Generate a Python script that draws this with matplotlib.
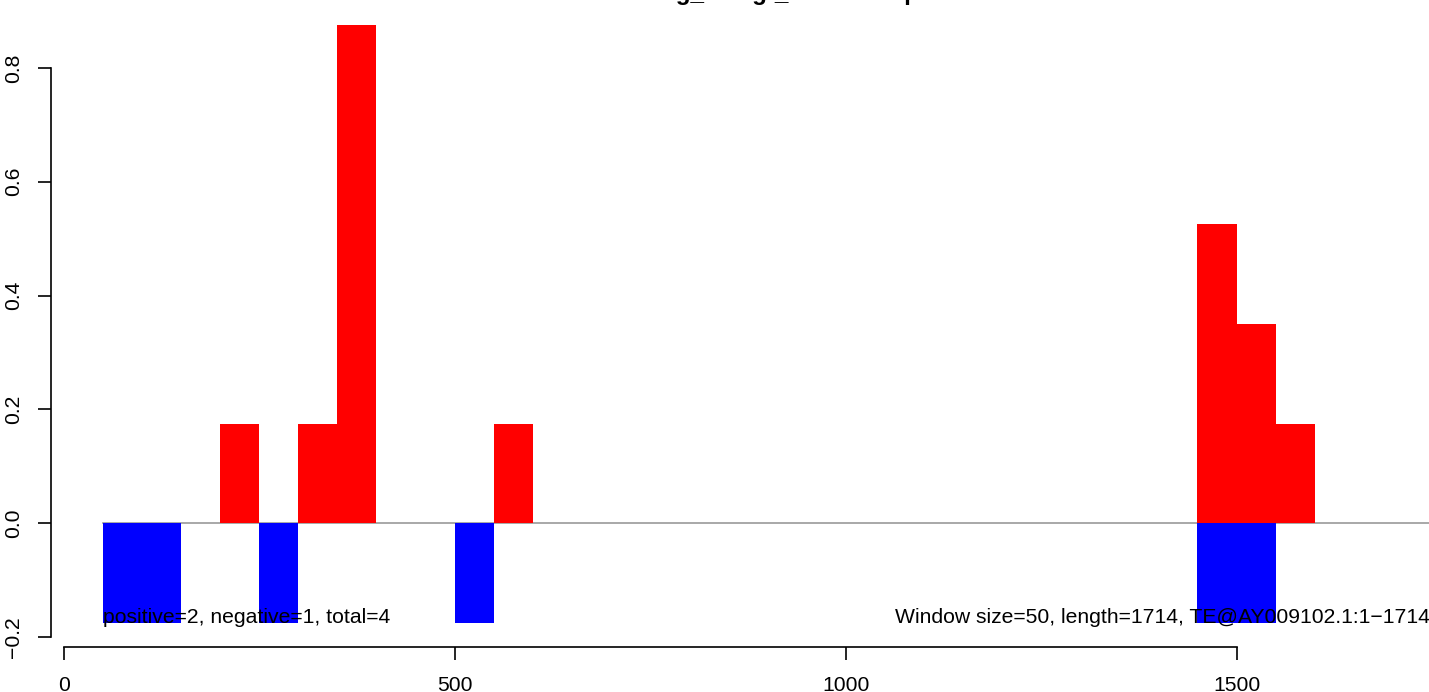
import matplotlib
matplotlib.use("Agg")
import matplotlib.pyplot as plt

# ---- data ----
window = 50
seq_length = 1714
pos_starts = [200, 300, 350, 550, 1450, 1500, 1550]
pos_vals = [0.175, 0.175, 0.875, 0.175, 0.525, 0.35, 0.175]
neg_starts = [50, 100, 250, 500, 1450, 1500]
neg_vals = [-0.175, -0.175, -0.175, -0.175, -0.175, -0.175]
x_ticks = [0, 500, 1000, 1500]
y_ticks = [-0.2, 0.0, 0.2, 0.4, 0.6, 0.8]
y_tick_labels = ["\u22120.2", "0.0", "0.2", "0.4", "0.6", "0.8"]
title = "Ovaries.log_Tab.gt_sRNAsumplot"
left_note = "positive=2, negative=1, total=4"
right_note = "Window size=50, length=1714, TE@AY009102.1:1\u22121714"

plt.rcParams["font.family"] = ["Liberation Sans", "DejaVu Sans"]

W, H = 1429, 692
fig = plt.figure(figsize=(W / 100, H / 100), dpi=100)
left_px, right_px, bottom_px, top_px = 50.7, 1456.0, 646.5, 1.5
ax = fig.add_axes([left_px / W, (H - bottom_px) / H,
                   (right_px - left_px) / W, (bottom_px - top_px) / H])
ax.set_xlim(-16.6, 1780.6)
ax.set_ylim(-0.217, 0.917)

ax.plot([50, seq_length + 60], [0, 0], color="#9a9a9a", lw=1.2, zorder=1)
ax.bar(pos_starts, pos_vals, width=window, align="edge", color="#ff0000",
       linewidth=0, zorder=2)
ax.bar(neg_starts, neg_vals, width=window, align="edge", color="#0000ff",
       linewidth=0, zorder=2)

fs = 15.2
ax.text(50, -0.175, left_note, ha="left", va="baseline", fontsize=fs, zorder=3)
ax.text(1747, -0.175, right_note, ha="right", va="baseline", fontsize=fs,
        zorder=3)

for s in ["top", "right"]:
    ax.spines[s].set_visible(False)
ax.spines["left"].set_bounds(-0.2, 0.8)
ax.spines["bottom"].set_bounds(0, 1500)
for s in ["left", "bottom"]:
    ax.spines[s].set_linewidth(1.2)

ax.set_xticks(x_ticks)
ax.set_xticklabels([str(t) for t in x_ticks], fontsize=fs)
ax.set_yticks(y_ticks)
ax.set_yticklabels(y_tick_labels, fontsize=fs, rotation=90, va="center")
ax.tick_params(axis="x", length=9.4, width=1.2, pad=11.5)
ax.tick_params(axis="y", length=9.4, width=1.2, pad=10.5)

fig.text((left_px + right_px) / 2 / W, 1.0, title, ha="center",
         va="baseline", fontsize=17.5, fontweight="bold")

fig.savefig("out.png", dpi=100)
